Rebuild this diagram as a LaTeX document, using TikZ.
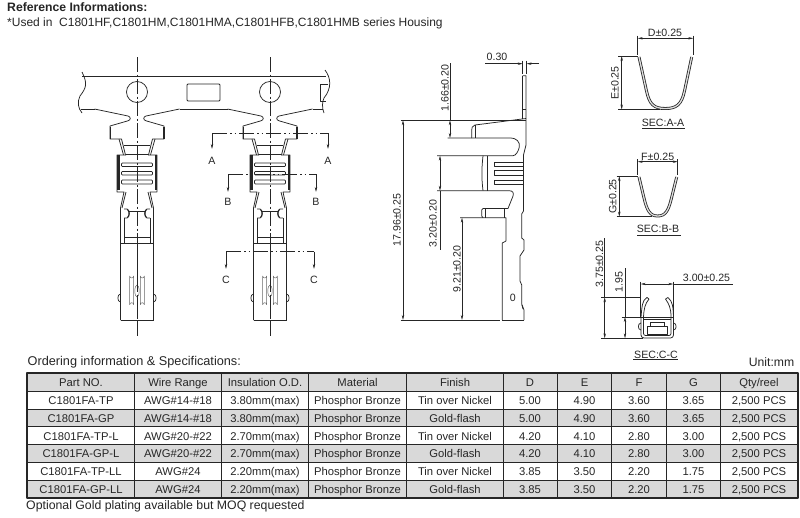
\documentclass[tikz,border=0pt]{standalone}
\usepackage{fontspec}
\setmainfont{Liberation Sans}
\usetikzlibrary{arrows.meta}
\definecolor{ink}{HTML}{262626}
\definecolor{rowgray}{HTML}{D9D9D9}
\tikzset{
  ln/.style={draw=ink,line width=0.75pt},
  thin ln/.style={draw=ink!70,line width=0.5pt},
  heavy/.style={draw=ink,line width=2.2pt},
  axisline/.style={draw=ink,line width=0.6pt,dash pattern=on 15pt off 2.5pt on 2pt off 2.5pt},
  cutline/.style={draw=ink,line width=0.6pt,dash pattern=on 15pt off 3pt on 1.5pt off 3pt on 1.5pt off 3pt},
  dim/.style={draw=ink,line width=0.5pt},
  dimarrow/.style={draw=ink,line width=0.5pt,{Stealth[length=5pt,width=2.4pt]}-{Stealth[length=5pt,width=2.4pt]}},
  tip/.style={draw=ink,line width=0.5pt,-{Stealth[length=5pt,width=2.4pt]}},
  lbl/.style={inner sep=0pt,text=ink,font=\fontsize{10.6}{12}\selectfont},
  big/.style={inner sep=0pt,text=ink,font=\fontsize{12.2}{14}\selectfont},
  tbl/.style={inner sep=0pt,text=ink,anchor=base,font=\fontsize{11.25}{13}\selectfont},
  ribbon/.style={draw=ink,line width=0.8pt,double=white!75!gray,double distance=1.3pt},
  terminal/.pic={
    \foreach \s in {-1,1}{
      \begin{scope}[xscale=\s]
        \draw[ln] (42.5,109) -- (9,116) .. controls (6,116.8) and (6,120) .. (9,120.8) -- (27,126) -- (27,139) -- (15.5,139) -- (11.5,155);
        \draw[ln] (18,139) -- (13.5,155);
        \draw[heavy,line width=1.8pt] (26.6,126.5) -- (26.6,138.5);
        \draw[ln] (11,155) -- (20,155) -- (20,192) -- (13,192) -- (16.5,208) -- (16.5,320);
        \draw[heavy] (18.6,155) -- (18.6,190);
        \draw[ln] (11,192) -- (15,208);
        \draw[ln] (13,218) -- (13,243);
        \draw[ln] (13,209) -- (10,209) .. controls (6.8,210) and (6.8,217) .. (10,218) -- (13,218);
        \draw[draw=ink,line width=1pt] (9.5,209.5) .. controls (7.5,211) and (7.5,216) .. (9.5,217.5);
        \draw[thin ln] (3.3,276) arc[start angle=180,end angle=0,radius=2] -- (7.3,304.7) arc[start angle=360,end angle=180,radius=2] -- cycle;
        \draw[ln] (16.5,294) .. controls (20,294) and (20,302) .. (16.5,302);
      \end{scope}
    }
    \draw[ln] (-13,145) -- (13,145);
    \draw[ln] (-11,154) -- (11,154);
    \draw[ln] (-8,211) -- (8,211);
    \draw[ln] (-13,237) -- (13,237);
    \draw[ln] (-16.5,243) -- (16.5,243);
    \draw[ln] (-16.5,320) -- (16.5,320);
    \draw[ln] (0,243) -- (0,318);
    \draw[thin ln,fill=white] (0,291) ellipse[x radius=2.2,y radius=6];
    \foreach \ya/\yb in {163/166.5,171.5/175,180/184}{
      \draw[ln,fill=white,rounded corners=0.8pt] (-15.5,\ya) rectangle (15.5,\yb);
    }
    \draw[axisline] (0,57) -- (0,338);
    \draw[ln] (0,92) circle[radius=10.5];
  }
}
\begin{document}
\begin{tikzpicture}[x=1pt,y=-1pt,line join=round]
\useasboundingbox (0,0) rectangle (800,517);
\fill[white] (0,0) rectangle (800,517);

% headings
\node[big,anchor=west,font=\fontsize{12.2}{14}\selectfont\bfseries] (title) at (7,7.5) {Reference Informations:};
\node[big,anchor=west,font=\fontsize{12}{14}\selectfont] (used) at (7,23) {*Used in\ \ C1801HF,C1801HM,C1801HMA,C1801HFB,C1801HMB series Housing};

% strip
\draw[ln] (82,76) -- (326,76);
\draw[ln] (82,72) .. controls (88,84) and (86,88) .. (80,96) .. controls (77,102) and (78,108) .. (82,113);
\draw[ln] (325,70) .. controls (331,78) and (332,88) .. (324,98) .. controls (322,102) and (322,108) .. (324,113);
\draw[ln] (81,109) -- (94.5,109);
\draw[ln] (179.5,109) -- (227.5,109);
\draw[ln] (312.5,109) -- (323,109);
\draw[ln,rounded corners=1pt] (187,84) rectangle (220,101);
\draw[ln] (328,84) -- (320,84) -- (320,101) -- (326,101);
\pic at (137,0) {terminal};
\pic at (270,0) {terminal};

% section marks
\draw[cutline] (212,133) -- (328,133);
\draw[tip] (212,133) -- (212,149);
\draw[tip] (328,133) -- (328,149);
\node[lbl] (aL) at (212,161) {A};
\node[lbl] (aR) at (328,161) {A};
\draw[cutline] (228,174) -- (316,174);
\draw[tip] (228,174) -- (228,192);
\draw[tip] (316,174) -- (316,192);
\node[lbl] (bL) at (228,202) {B};
\node[lbl] (bR) at (316,202) {B};
\draw[cutline] (226,251.5) -- (314,251.5);
\draw[tip] (226,251.5) -- (226,269);
\draw[tip] (314,251.5) -- (314,269);
\node[lbl] (cL) at (226,279.5) {C};
\node[lbl] (cR) at (314,279.5) {C};

% side view outline
\draw[ln] (522.7,75.7) -- (526,75.7) -- (526,145) -- (523.5,155) -- (523.5,211) -- (521.7,214) -- (521.7,238) -- (524,240) -- (524,250) -- (520,256) -- (520,281) -- (521.7,285) -- (521.7,304) -- (524,310) -- (524,320);
\draw[ln] (522.7,75.7) -- (522.7,119);
\draw[ln] (522.7,109) -- (526,109);
\draw[ln] (526,118.5) -- (475,125) .. controls (472,126) and (471.7,128) .. (471.7,130) -- (471.7,138);
\draw[ln] (526,120.5) -- (520,120.5);
\draw[ln] (475,125) -- (475,138);
\draw[ln] (447.7,138) -- (510,138) .. controls (517,138) and (520,142) .. (519.3,147) .. controls (518.5,151) and (516,155.7) .. (513,155.7) -- (437,155.7);
\draw[ln] (483,155.7) .. controls (481.5,170) and (481.5,178) .. (483,190.7);
\draw[ln] (487,155.7) -- (487,190.7);
\draw[ln] (437,190.7) -- (509,190.7) .. controls (513,190.7) and (514,193) .. (513,196) -- (508,208.5) -- (483,208.5) -- (481.7,210) -- (481.7,216) -- (483,217.7);
\draw[ln] (485.5,208.5) -- (485.5,217.7);
\draw[ln] (504,208.5) -- (504,217.7);
\draw[ln] (460,217.7) -- (506,217.7) -- (506,241) -- (502.3,243) -- (502.3,320);
\foreach \ya/\yb in {162.3/166.7,170.7/175,180/184}{
  \draw[ln] (523.5,\ya) -- (494,\ya) -- (494,\yb) -- (523.5,\yb);
}
\draw[ln] (522,305) -- (523,309);
\node[lbl] (zero) at (512.7,297.5) {0};

% side view dimensions
\draw[dim] (400.7,120.3) -- (522,120.3);
\draw[dim] (400.7,320) -- (500,320);
\draw[ln] (502.3,320) -- (524,320);
\draw[dimarrow] (403,120.3) -- (403,320);
\node[lbl,rotate=90] (d1796) at (397,220) {17.96±0.25};
\draw[dim] (450,63) -- (450,120.3);
\draw[dimarrow] (450,120.3) -- (450,138);
\node[lbl,rotate=90] (d166) at (445,88) {1.66±0.20};
\draw[dimarrow] (440,155.7) -- (440,190.7);
\draw[dim] (440,190.7) -- (440,250);
\node[lbl,rotate=90] (d320) at (433,223.5) {3.20±0.20};
\draw[dimarrow] (462,217.7) -- (462,320);
\node[lbl,rotate=90] (d921) at (457,269) {9.21±0.20};
\draw[dim] (522.7,60.7) -- (522.7,74);
\draw[dim] (526.5,60.7) -- (526.5,74);
\draw[dim] (485,63.7) -- (510,63.7);
\draw[tip] (510,63.7) -- (522.7,63.7);
\draw[tip] (539,63.7) -- (526.5,63.7);
\node[lbl] (d030) at (497,57) {0.30};

% section A-A
\draw[ribbon] (639,57) -- (646.5,91) .. controls (649.5,104.6) and (654,108.5) .. (665.3,108.5) .. controls (676.5,108.5) and (681.5,104.6) .. (684.5,91) -- (691.7,57);
\draw[dim] (637.7,35.7) -- (637.7,55);
\draw[dim] (693.3,35.7) -- (693.3,55);
\draw[dimarrow] (637.7,38.3) -- (693.3,38.3);
\node[lbl] (dD) at (665,33) {D±0.25};
\draw[dim] (618,56) -- (638,56);
\draw[dim] (618,109.5) -- (660,109.5);
\draw[dimarrow] (621.7,56) -- (621.7,109.5);
\node[lbl,rotate=90] (dE) at (615,83) {E±0.25};
\node[lbl] (secA) at (663,122.5) {SEC:A-A};
\draw[dim,line width=0.7pt] (642,128) -- (685,128);

% section B-B
\draw[ribbon] (639,177) -- (644,198) .. controls (647,210.6) and (650,216) .. (657.7,216) .. controls (665.5,216) and (668.5,210.6) .. (671.5,198) -- (676.7,177);
\draw[dim] (637.7,159) -- (637.7,175);
\draw[dim] (677.7,159) -- (677.7,175);
\draw[dimarrow] (637.7,161.7) -- (677.7,161.7);
\node[lbl] (dF) at (657.7,156.5) {F±0.25};
\draw[dim] (616.5,176) -- (638,176);
\draw[dim] (616.5,216.7) -- (652,216.7);
\draw[dimarrow] (619.3,176) -- (619.3,216.7);
\node[lbl,rotate=90] (dG) at (612.7,196.5) {G±0.25};
\node[lbl] (secB) at (658,229) {SEC:B-B};
\draw[dim,line width=0.7pt] (637,235) -- (681,235);

% section C-C
\draw[ln,rounded corners=3pt] (641,317) -- (641,338) -- (673.5,338) -- (673.5,317);
\draw[ln,rounded corners=2pt] (643.5,317) -- (643.5,335.5) -- (671,335.5) -- (671,317);
\draw[ln] (641,317) -- (673.5,317);
\draw[ln] (643.5,319.5) -- (671,319.5);
\draw[ln] (647.5,326.5) rectangle (667,334);
\draw[ln] (650,326.5) -- (650,322) ;
\draw[ln] (664.5,326.5) -- (664.5,322);
\draw[ln] (650,322) -- (664.5,322);
\draw[ln] (641,317) .. controls (642,307) and (642,300) .. (647,297.5);
\draw[ln] (643.5,317) .. controls (644,308) and (645,304) .. (649,299);
\draw[ln] (673.5,317) .. controls (673,307) and (673,302) .. (668,297.5);
\draw[ln] (671,317) .. controls (671,308) and (669,304) .. (665.5,299);
\draw[ln] (647,297.5) -- (649,299);
\draw[ln] (668,297.5) -- (665.5,299);
\draw[ln] (641,323) .. controls (637.5,323) and (637.5,330) .. (641,330);
\draw[ln] (673.5,323) .. controls (677,323) and (677,330) .. (673.5,330);
\draw[dim] (601,297.3) -- (640,297.3);
\draw[dim] (621.5,317) -- (641,317);
\draw[dim] (601,338.3) -- (643,338.3);
\draw[dim] (604.7,238) -- (604.7,297.3);
\draw[dim] (625,268) -- (625,317);
\draw[dimarrow] (604.7,297.3) -- (604.7,338.3);
\draw[dimarrow] (625,317) -- (625,338.3);
\node[lbl,rotate=90] (d375) at (599.5,264) {3.75±0.25};
\node[lbl,rotate=90] (d195) at (619,282) {1.95};
\draw[dim] (640.7,281.7) -- (640.7,318);
\draw[dim] (673.3,281.7) -- (673.3,318);
\draw[dimarrow] (640.7,284) -- (673.3,284);
\draw[dim] (673.3,284) -- (733,284);
\node[lbl] (d300) at (706.5,278) {3.00±0.25};
\node[lbl] (secC) at (656,354.5) {SEC:C-C};
\draw[dim,line width=0.7pt] (633,359.5) -- (678,359.5);

% table heading
\node[big,anchor=west,font=\fontsize{12.7}{14}\selectfont] (order) at (27.5,362.5) {Ordering information \& Specifications:};
\node[big,anchor=east] (unit) at (794.5,362.5) {Unit:mm};
\node[big,anchor=west,font=\fontsize{12.3}{14}\selectfont] (note) at (26,506) {Optional Gold plating available but MOQ requested};

% table
\fill[rowgray] (27.3,373.3) rectangle (797.7,391);
\fill[rowgray] (27.3,409) rectangle (797.7,426.7);
\fill[rowgray] (27.3,444.3) rectangle (797.7,462);
\fill[rowgray] (27.3,480) rectangle (797.7,497.7);
\foreach \yy in {391,409,426.7,444.3,462,480}{\draw[ln,line width=0.8pt] (27.3,\yy) -- (797.7,\yy);}
\foreach \xx in {134.3,221.3,308.7,406.7,503.3,557.3,611.7,666,720.7}{\draw[ln,line width=0.8pt] (\xx,373.3) -- (\xx,497.7);}
\draw[draw=ink,line width=2pt] (27.3,373.3) rectangle (797.7,497.7);

\foreach \n/\yb/\a/\b/\c/\d/\e/\ff/\g/\h/\i in {
  h/386/Part NO./Wire Range/Insulation O.D./Material/Finish/D/E/F/G,
  r1/404/C1801FA-TP/AWG\#14-\#18/3.80mm(max)/Phosphor Bronze/Tin over Nickel/5.00/4.90/3.60/3.65,
  r2/422/C1801FA-GP/AWG\#14-\#18/3.80mm(max)/Phosphor Bronze/Gold-flash/5.00/4.90/3.60/3.65,
  r3/440/C1801FA-TP-L/AWG\#20-\#22/2.70mm(max)/Phosphor Bronze/Tin over Nickel/4.20/4.10/2.80/3.00,
  r4/457.5/C1801FA-GP-L/AWG\#20-\#22/2.70mm(max)/Phosphor Bronze/Gold-flash/4.20/4.10/2.80/3.00,
  r5/475.5/C1801FA-TP-LL/AWG\#24/2.20mm(max)/Phosphor Bronze/Tin over Nickel/3.85/3.50/2.20/1.75,
  r6/493/C1801FA-GP-LL/AWG\#24/2.20mm(max)/Phosphor Bronze/Gold-flash/3.85/3.50/2.20/1.75}{
  \node[tbl] (\n a) at (81,\yb) {\a};
  \node[tbl] (\n b) at (178,\yb) {\b};
  \node[tbl] (\n c) at (265,\yb) {\c};
  \node[tbl] (\n d) at (357.5,\yb) {\d};
  \node[tbl] (\n e) at (455,\yb) {\e};
  \node[tbl] (\n f) at (530,\yb) {\ff};
  \node[tbl] (\n g) at (584.5,\yb) {\g};
  \node[tbl] (\n k) at (639,\yb) {\h};
  \node[tbl] (\n m) at (693.5,\yb) {\i};
}
\node[tbl] (hq) at (759,386) {Qty/reel};
\foreach \n/\yb in {1/404,2/422,3/440,4/457.5,5/475.5,6/493}{
  \node[tbl] (q\n) at (759,\yb) {2,500 PCS};
}
\end{tikzpicture}
\end{document}
